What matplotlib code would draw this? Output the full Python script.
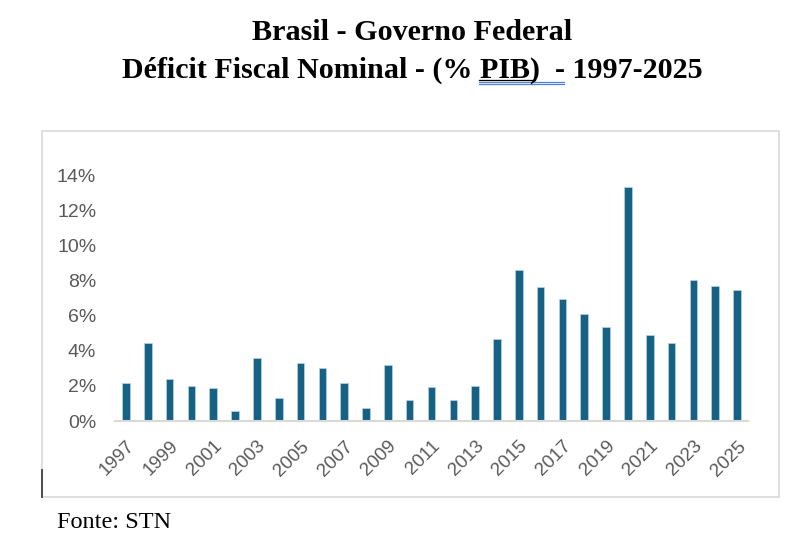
import matplotlib
matplotlib.use("Agg")
import matplotlib.pyplot as plt
from matplotlib.lines import Line2D
from matplotlib.patches import Rectangle
from matplotlib.ticker import FuncFormatter

years = list(range(1997, 2026))
deficit = [2.15, 4.46, 2.37, 2.02, 1.89, 0.59, 3.58, 1.30, 3.31, 3.01,
           2.15, 0.73, 3.17, 1.17, 1.94, 1.22, 2.02, 4.65, 8.59, 7.60,
           6.94, 6.08, 5.37, 13.30, 4.88, 4.46, 8.00, 7.66, 7.43]
title1 = "Brasil - Governo Federal"
title2 = "Déficit Fiscal Nominal - (% PIB)  - 1997-2025"
source = "Fonte: STN"

W, H = 804, 544
fig = plt.figure(figsize=(W / 100, H / 100), dpi=100)
fig.patch.set_facecolor("white")

# chart frame
fig.add_artist(Rectangle((42 / W, 1 - 497 / H), (779 - 42) / W, (497 - 131) / H,
                         transform=fig.transFigure, fill=False,
                         edgecolor="#d9d9d9", linewidth=1.2))
fig.add_artist(Line2D([42.5 / W, 42.5 / W], [1 - 497 / H, 1 - 470 / H],
                      transform=fig.transFigure, color="#404040", linewidth=1.3))

ax = fig.add_axes([115 / W, 1 - 421 / H, (748 - 115) / W, (421 - 175) / H])
x = list(range(len(years)))
ax.bar(x, deficit, width=0.35, color="#166184", edgecolor="#b9d3df",
       linewidth=0.5)
ax.set_xlim(-0.5, len(years) - 0.5)
ax.set_ylim(0, 14)
ax.set_yticks([0, 2, 4, 6, 8, 10, 12, 14])
ax.yaxis.set_major_formatter(FuncFormatter(lambda v, p: f"{int(v)}%"))
ax.set_xticks(x[::2])
ax.set_xticklabels([str(y) for y in years[::2]], rotation=45, ha="right",
                   va="top", rotation_mode="anchor")
for s in ["top", "right", "left"]:
    ax.spines[s].set_visible(False)
ax.spines["bottom"].set_color("#d9d9d9")
ax.spines["bottom"].set_linewidth(1.5)
ax.tick_params(axis="both", length=0, colors="#595959")
ax.tick_params(axis="y", pad=13.5, labelsize=14)
ax.tick_params(axis="x", pad=12, labelsize=13.5)
for lab in ax.get_xticklabels() + ax.get_yticklabels():
    lab.set_fontfamily("Liberation Sans")
    lab.set_color("#595959")

fig.text(412 / W, 1 - 40.5 / H, title1, ha="center", va="baseline",
         fontfamily="Liberation Serif", fontweight="bold", fontsize=21.7)
fig.text(412 / W, 1 - 78 / H, title2, ha="center", va="baseline",
         fontfamily="Liberation Serif", fontweight="bold", fontsize=21.6)
# word-style underline and spell-check double underline
fig.add_artist(Line2D([479 / W, 535 / W], [1 - 79.7 / H, 1 - 79.7 / H],
                      transform=fig.transFigure, color="black", linewidth=0.9))
for yy in (81.8, 84.2):
    fig.add_artist(Line2D([479 / W, 564 / W], [1 - yy / H, 1 - yy / H],
                          transform=fig.transFigure, color="#4f83d1",
                          linewidth=0.9))
fig.text(57 / W, 1 - 528 / H, source, ha="left", va="baseline",
         fontfamily="Liberation Serif", fontsize=17.5)

fig.savefig("out.png", dpi=100)
